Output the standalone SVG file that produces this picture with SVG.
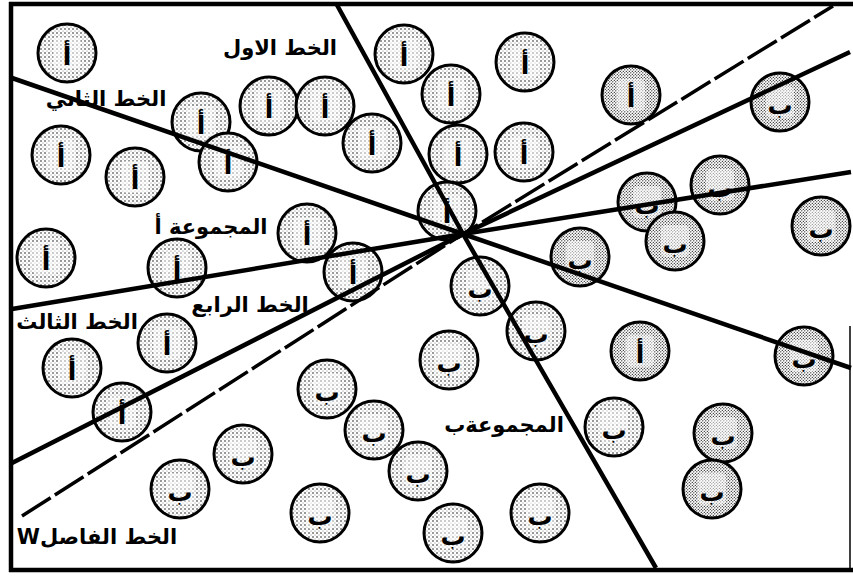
<svg xmlns="http://www.w3.org/2000/svg" width="853" height="576" viewBox="0 0 853 576">
<style>
.bg{fill:#fff}
.frame{fill:none;stroke:#000;stroke-width:4.5}
.frame-thin{fill:none;stroke:#000;stroke-width:1.5}
.disc{stroke:#000;stroke-width:3}
.a{fill:url(#stipA)}
.b{fill:url(#stipB)}
.core{fill:#fff;opacity:0.5}
.ltr{font-family:"DejaVu Sans",sans-serif;font-weight:bold;fill:#000;text-anchor:middle}
.la{font-size:25px}
.lb{font-size:25px}
.lbl{font-family:"DejaVu Sans",sans-serif;font-weight:bold;font-size:21px;fill:#000;text-anchor:middle}
.line{fill:none;stroke:#000;stroke-width:4.5;stroke-linejoin:round}
.dash{fill:none;stroke:#000;stroke-width:3.5;stroke-dasharray:34 5}
</style>
<defs>
<pattern id="stipA" patternUnits="userSpaceOnUse" width="4" height="4">
<rect width="4" height="4" fill="#fff"/>
<circle cx="1" cy="1" r="0.75" fill="#000"/>
<circle cx="3" cy="3" r="0.45" fill="#000"/>
</pattern>
<pattern id="stipB" patternUnits="userSpaceOnUse" width="3" height="3">
<rect width="3" height="3" fill="#fff"/>
<circle cx="0.8" cy="0.8" r="0.65" fill="#000"/>
<circle cx="2.3" cy="2.3" r="0.6" fill="#000"/>
</pattern>
</defs>
<rect class="bg" width="853" height="576"/>

<g id="nodes">
<g id="a1"><circle class="disc a" cx="67" cy="53" r="29"/><rect class="core" x="53" y="37" width="28" height="32" rx="5"/><text class="ltr la" x="67" y="65">أ</text></g>
<g id="a2"><circle class="disc a" cx="61" cy="155" r="29"/><rect class="core" x="47" y="139" width="28" height="32" rx="5"/><text class="ltr la" x="61" y="167">أ</text></g>
<g id="a3"><circle class="disc a" cx="135" cy="177" r="29"/><rect class="core" x="121" y="161" width="28" height="32" rx="5"/><text class="ltr la" x="135" y="189">أ</text></g>
<g id="a4"><circle class="disc a" cx="201" cy="122" r="29"/><rect class="core" x="187" y="106" width="28" height="32" rx="5"/><text class="ltr la" x="201" y="134">أ</text></g>
<g id="a5"><circle class="disc a" cx="228" cy="162" r="29"/><rect class="core" x="214" y="146" width="28" height="32" rx="5"/><text class="ltr la" x="228" y="174">أ</text></g>
<g id="a6"><circle class="disc a" cx="269" cy="106" r="29"/><rect class="core" x="255" y="90" width="28" height="32" rx="5"/><text class="ltr la" x="269" y="118">أ</text></g>
<g id="a7"><circle class="disc a" cx="325" cy="106" r="29"/><rect class="core" x="311" y="90" width="28" height="32" rx="5"/><text class="ltr la" x="325" y="118">أ</text></g>
<g id="a8"><circle class="disc a" cx="372" cy="143" r="29"/><rect class="core" x="358" y="127" width="28" height="32" rx="5"/><text class="ltr la" x="372" y="155">أ</text></g>
<g id="a9"><circle class="disc a" cx="46" cy="258" r="29"/><rect class="core" x="32" y="242" width="28" height="32" rx="5"/><text class="ltr la" x="46" y="270">أ</text></g>
<g id="a10"><circle class="disc a" cx="307" cy="233" r="29"/><rect class="core" x="293" y="217" width="28" height="32" rx="5"/><text class="ltr la" x="307" y="245">أ</text></g>
<g id="a11"><circle class="disc a" cx="177" cy="268" r="29"/><rect class="core" x="163" y="252" width="28" height="32" rx="5"/><text class="ltr la" x="177" y="280">أ</text></g>
<g id="a12"><circle class="disc a" cx="353" cy="272" r="29"/><rect class="core" x="339" y="256" width="28" height="32" rx="5"/><text class="ltr la" x="353" y="284">أ</text></g>
<g id="a13"><circle class="disc a" cx="167" cy="343" r="29"/><rect class="core" x="153" y="327" width="28" height="32" rx="5"/><text class="ltr la" x="167" y="355">أ</text></g>
<g id="a14"><circle class="disc a" cx="72" cy="368" r="29"/><rect class="core" x="58" y="352" width="28" height="32" rx="5"/><text class="ltr la" x="72" y="380">أ</text></g>
<g id="a15"><circle class="disc a" cx="122" cy="412" r="29"/><rect class="core" x="108" y="396" width="28" height="32" rx="5"/><text class="ltr la" x="122" y="424">أ</text></g>
<g id="a16"><circle class="disc a" cx="404" cy="54" r="29"/><rect class="core" x="390" y="38" width="28" height="32" rx="5"/><text class="ltr la" x="404" y="66">أ</text></g>
<g id="a17"><circle class="disc a" cx="451" cy="94" r="29"/><rect class="core" x="437" y="78" width="28" height="32" rx="5"/><text class="ltr la" x="451" y="106">أ</text></g>
<g id="a18"><circle class="disc a" cx="525" cy="62" r="29"/><rect class="core" x="511" y="46" width="28" height="32" rx="5"/><text class="ltr la" x="525" y="74">أ</text></g>
<g id="a19"><circle class="disc a" cx="458" cy="154" r="29"/><rect class="core" x="444" y="138" width="28" height="32" rx="5"/><text class="ltr la" x="458" y="166">أ</text></g>
<g id="a20"><circle class="disc a" cx="524" cy="152" r="29"/><rect class="core" x="510" y="136" width="28" height="32" rx="5"/><text class="ltr la" x="524" y="164">أ</text></g>
<g id="a21"><circle class="disc a" cx="447" cy="211" r="29"/><rect class="core" x="433" y="195" width="28" height="32" rx="5"/><text class="ltr la" x="447" y="223">أ</text></g>
<g id="a22"><circle class="disc b" cx="631" cy="95" r="29"/><rect class="core" x="617" y="79" width="28" height="32" rx="5"/><text class="ltr la" x="631" y="107">أ</text></g>
<g id="a23"><circle class="disc b" cx="640" cy="351" r="29"/><rect class="core" x="626" y="335" width="28" height="32" rx="5"/><text class="ltr la" x="640" y="363">أ</text></g>

<g id="b1"><circle class="disc a" cx="480" cy="286" r="29"/><rect class="core" x="466" y="270" width="28" height="32" rx="5"/><text class="ltr lb" x="480" y="298">ب</text></g>
<g id="b2"><circle class="disc a" cx="536" cy="331" r="29"/><rect class="core" x="522" y="315" width="28" height="32" rx="5"/><text class="ltr lb" x="536" y="343">ب</text></g>
<g id="b3"><circle class="disc a" cx="449" cy="360" r="29"/><rect class="core" x="435" y="344" width="28" height="32" rx="5"/><text class="ltr lb" x="449" y="372">ب</text></g>
<g id="b4"><circle class="disc a" cx="327" cy="389" r="29"/><rect class="core" x="313" y="373" width="28" height="32" rx="5"/><text class="ltr lb" x="327" y="401">ب</text></g>
<g id="b5"><circle class="disc a" cx="374" cy="430" r="29"/><rect class="core" x="360" y="414" width="28" height="32" rx="5"/><text class="ltr lb" x="374" y="442">ب</text></g>
<g id="b6"><circle class="disc a" cx="418" cy="471" r="29"/><rect class="core" x="404" y="455" width="28" height="32" rx="5"/><text class="ltr lb" x="418" y="483">ب</text></g>
<g id="b7"><circle class="disc a" cx="243" cy="454" r="29"/><rect class="core" x="229" y="438" width="28" height="32" rx="5"/><text class="ltr lb" x="243" y="466">ب</text></g>
<g id="b8"><circle class="disc a" cx="180" cy="489" r="29"/><rect class="core" x="166" y="473" width="28" height="32" rx="5"/><text class="ltr lb" x="180" y="501">ب</text></g>
<g id="b9"><circle class="disc a" cx="320" cy="513" r="29"/><rect class="core" x="306" y="497" width="28" height="32" rx="5"/><text class="ltr lb" x="320" y="525">ب</text></g>
<g id="b10"><circle class="disc a" cx="453" cy="533" r="29"/><rect class="core" x="439" y="517" width="28" height="32" rx="5"/><text class="ltr lb" x="453" y="545">ب</text></g>
<g id="b11"><circle class="disc a" cx="540" cy="513" r="29"/><rect class="core" x="526" y="497" width="28" height="32" rx="5"/><text class="ltr lb" x="540" y="525">ب</text></g>
<g id="b12"><circle class="disc a" cx="614" cy="427" r="29"/><rect class="core" x="600" y="411" width="28" height="32" rx="5"/><text class="ltr lb" x="614" y="439">ب</text></g>
<g id="b13"><circle class="disc b" cx="723" cy="433" r="29"/><rect class="core" x="709" y="417" width="28" height="32" rx="5"/><text class="ltr lb" x="723" y="445">ب</text></g>
<g id="b14"><circle class="disc b" cx="712" cy="489" r="29"/><rect class="core" x="698" y="473" width="28" height="32" rx="5"/><text class="ltr lb" x="712" y="501">ب</text></g>
<g id="b15"><circle class="disc b" cx="804" cy="356" r="29"/><rect class="core" x="790" y="340" width="28" height="32" rx="5"/><text class="ltr lb" x="804" y="368">ب</text></g>
<g id="b16"><circle class="disc b" cx="580" cy="257" r="29"/><rect class="core" x="566" y="241" width="28" height="32" rx="5"/><text class="ltr lb" x="580" y="269">ب</text></g>
<g id="b17"><circle class="disc b" cx="647" cy="202" r="29"/><rect class="core" x="633" y="186" width="28" height="32" rx="5"/><text class="ltr lb" x="647" y="214">ب</text></g>
<g id="b18"><circle class="disc b" cx="720" cy="185" r="29"/><rect class="core" x="706" y="169" width="28" height="32" rx="5"/><text class="ltr lb" x="720" y="197">ب</text></g>
<g id="b19"><circle class="disc b" cx="675" cy="241" r="29"/><rect class="core" x="661" y="225" width="28" height="32" rx="5"/><text class="ltr lb" x="675" y="253">ب</text></g>
<g id="b20"><circle class="disc b" cx="821" cy="226" r="29"/><rect class="core" x="807" y="210" width="28" height="32" rx="5"/><text class="ltr lb" x="821" y="238">ب</text></g>
<g id="b21"><circle class="disc b" cx="780" cy="102" r="29"/><rect class="core" x="766" y="86" width="28" height="32" rx="5"/><text class="ltr lb" x="780" y="114">ب</text></g>
</g>

<g id="connectors">
<path id="line1" class="line" d="M337,5 L463,234 L656,568"/>
<path id="line2" class="line" d="M12,78 L463,234 L851,368"/>
<path id="line3" class="line" d="M12,463 L463,234 L850,52"/>
<path id="line4" class="line" d="M12,309 L463,234 L851,172"/>
<path id="lineW" class="dash" d="M22,516 L463,234 L833,6"/>
</g>

<g id="labels">
<text class="lbl" x="280" y="55" direction="rtl">الخط الاول</text>
<text class="lbl" x="106" y="106" direction="rtl">الخط الثاني</text>
<text class="lbl" x="211" y="234" direction="rtl">المجموعة أ</text>
<text class="lbl" x="250" y="312" direction="rtl">الخط الرابع</text>
<text class="lbl" x="77" y="329" direction="rtl">الخط الثالث</text>
<text class="lbl" x="97" y="544" direction="rtl">الخط الفاصلW</text>
<text class="lbl" x="504" y="432" direction="rtl">المجموعةب</text>
</g>

<g id="frame">
<path class="frame" d="M9,4 H853 M11,2 V572 M9,570 H853"/>
<path class="frame-thin" d="M850,326 V570"/>
</g>
</svg>
